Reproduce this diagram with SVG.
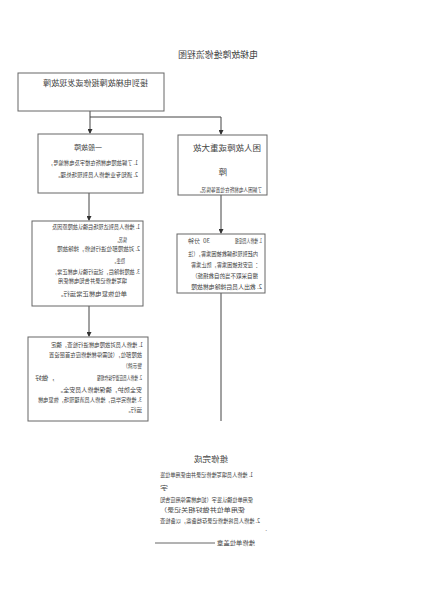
<svg xmlns="http://www.w3.org/2000/svg" width="423" height="600" viewBox="0 0 423 600">
<defs>
<style>
.t{font-family:"Noto Sans CJK SC","Noto Sans",sans-serif;fill:#444;font-size:6px}
.h{font-size:8.5px}
.box{fill:#fff;stroke:#666;stroke-width:1}
.conn{stroke:#444;stroke-width:1;fill:none}
</style>
<marker id="arr" markerWidth="5" markerHeight="5" refX="4" refY="2.5" orient="auto" markerUnits="userSpaceOnUse">
<path d="M0,0 L5,2.5 L0,5 Z" fill="#333"/>
</marker>
</defs>
<rect width="423" height="600" fill="#fff"/>
<g transform="matrix(-1 0 0 1 423 0)">
<text id="title" class="t" x="165" y="58" style="font-size:9px" textLength="80" lengthAdjust="spacingAndGlyphs">电梯故障维修流程图</text>

<g id="connectors">
<path class="conn" d="M333,111 V117 M333,117 V133" marker-end="url(#arr)"/>
<path class="conn" d="M333,117 H202 V134" marker-end="url(#arr)"/>
<path class="conn" d="M334,193 V220" marker-end="url(#arr)"/>
<path class="conn" d="M334,306 V336" marker-end="url(#arr)"/>
<path class="conn" d="M202,195 V233" marker-end="url(#arr)"/>
<path class="conn" d="M202,293 V421"/>
<path class="conn" d="M208,543 H268" style="stroke:#666"/>
</g>

<g id="start">
<rect class="box" x="259" y="73" width="146" height="38"/>
<text class="t" x="275" y="86" style="font-size:8px" textLength="105" lengthAdjust="spacingAndGlyphs">接到电梯故障报修或发现故障</text>
</g>

<g id="general">
<rect class="box" x="280" y="134" width="105" height="59"/>
<text class="t" x="321" y="149.5" style="font-size:7px" textLength="28" lengthAdjust="spacingAndGlyphs">一般故障</text>
<text class="t" x="285" y="165" textLength="90" lengthAdjust="spacingAndGlyphs">1. 了解故障电梯所在楼宇及电梯编号，</text>
<text class="t" x="285" y="177" textLength="83" lengthAdjust="spacingAndGlyphs">2. 通知专业维修人员到现场处理。</text>
</g>

<g id="major">
<rect class="box" x="156" y="135" width="89" height="60"/>
<text class="t h" x="162" y="151" textLength="68" lengthAdjust="spacingAndGlyphs">困人故障或重大故</text>
<text class="t h" x="196" y="175">障</text>
<text class="t" x="161" y="192" style="font-size:5.5px" textLength="65" lengthAdjust="spacingAndGlyphs">了解困人电梯所在位置等情况。</text>
</g>

<g id="repair">
<rect class="box" x="280" y="221" width="111" height="85"/>
<text class="t" x="283" y="229.3" textLength="88" lengthAdjust="spacingAndGlyphs">1. 维修人员到达现场后确认故障原因及</text>
<text class="t" x="296" y="242.3" textLength="12" lengthAdjust="spacingAndGlyphs">情况。</text>
<text class="t" x="283" y="251.3" textLength="83" lengthAdjust="spacingAndGlyphs">2. 对故障部位进行检修，排除故障</text>
<text class="t" x="298" y="263.3" textLength="13" lengthAdjust="spacingAndGlyphs">隐患。</text>
<text class="t" x="283" y="274.3" textLength="88" lengthAdjust="spacingAndGlyphs">3. 故障排除后，试运行确认电梯正常，</text>
<text class="t" x="296" y="283.3" textLength="69" lengthAdjust="spacingAndGlyphs">填写维修记录并告知电梯使用</text>
<text class="t" x="296" y="296.3" textLength="70" lengthAdjust="spacingAndGlyphs">单位恢复电梯正常运行。</text>
</g>

<g id="rescue">
<rect class="box" x="158" y="234" width="88" height="59"/>
<text class="t" x="161" y="243.3" textLength="27" lengthAdjust="spacingAndGlyphs">1. 维修人员接报</text>
<text class="t" x="213" y="243.3" textLength="7" lengthAdjust="spacingAndGlyphs">30</text>
<text class="t" x="223" y="243.3" textLength="12" lengthAdjust="spacingAndGlyphs">分钟</text>
<text class="t" x="165" y="256.3" textLength="70" lengthAdjust="spacingAndGlyphs">内赶到现场解救被困乘客，（注</text>
<text class="t" x="165" y="267.3" textLength="67" lengthAdjust="spacingAndGlyphs">：应安抚被困乘客，防止乘客</text>
<text class="t" x="165" y="278.3" textLength="66" lengthAdjust="spacingAndGlyphs">擅自采取不当的自救措施）</text>
<text class="t" x="161" y="289.3" textLength="71" lengthAdjust="spacingAndGlyphs">2. 救出人员后排除电梯故障</text>
</g>

<g id="work">
<rect class="box" x="275" y="337" width="120" height="84"/>
<text class="t" x="280" y="347.3" textLength="92" lengthAdjust="spacingAndGlyphs">1. 维修人员对故障电梯进行检查，确定</text>
<text class="t" x="281" y="357.3" textLength="93" lengthAdjust="spacingAndGlyphs">故障部位，（如需停梯维修应在首层设置</text>
<text class="t" x="281" y="368.3" textLength="19" lengthAdjust="spacingAndGlyphs">警示牌）</text>
<text class="t" x="281" y="380.3" textLength="45" lengthAdjust="spacingAndGlyphs">2. 维修人员应遵守操作规程</text>
<text class="t" x="368" y="380.3" textLength="20" lengthAdjust="spacingAndGlyphs">，做好</text>
<text class="t" x="281" y="392.3" textLength="85" lengthAdjust="spacingAndGlyphs">安全防护，确保维修人员安全。</text>
<text class="t" x="281" y="402.3" textLength="104" lengthAdjust="spacingAndGlyphs">3. 维修完毕后，维修人员清理现场，恢复电梯</text>
<text class="t" x="281" y="412.3" textLength="17" lengthAdjust="spacingAndGlyphs">运行。</text>
</g>

<g id="done">
<text class="t h" x="195" y="462" textLength="34" lengthAdjust="spacingAndGlyphs">维修完成</text>
<text class="t" x="170" y="477" textLength="93" lengthAdjust="spacingAndGlyphs">1. 维修人员填写维修记录并由使用单位签</text>
<text class="t" x="255" y="489.5" textLength="8" lengthAdjust="spacingAndGlyphs">字</text>
<text class="t" x="170" y="502" textLength="93" lengthAdjust="spacingAndGlyphs">使用单位确认签字（如电梯需停用应告知</text>
<text class="t" x="178" y="512" textLength="85" lengthAdjust="spacingAndGlyphs">使用单位并做好相关记录）</text>
<text class="t" x="163" y="523" textLength="100" lengthAdjust="spacingAndGlyphs">2. 维修人员将维修记录存档备案，以备检查</text>
<text class="t" x="156" y="531">.</text>
<text class="t" x="168" y="545" textLength="38" lengthAdjust="spacingAndGlyphs">维修单位盖章</text>
</g>
</g>
</svg>
